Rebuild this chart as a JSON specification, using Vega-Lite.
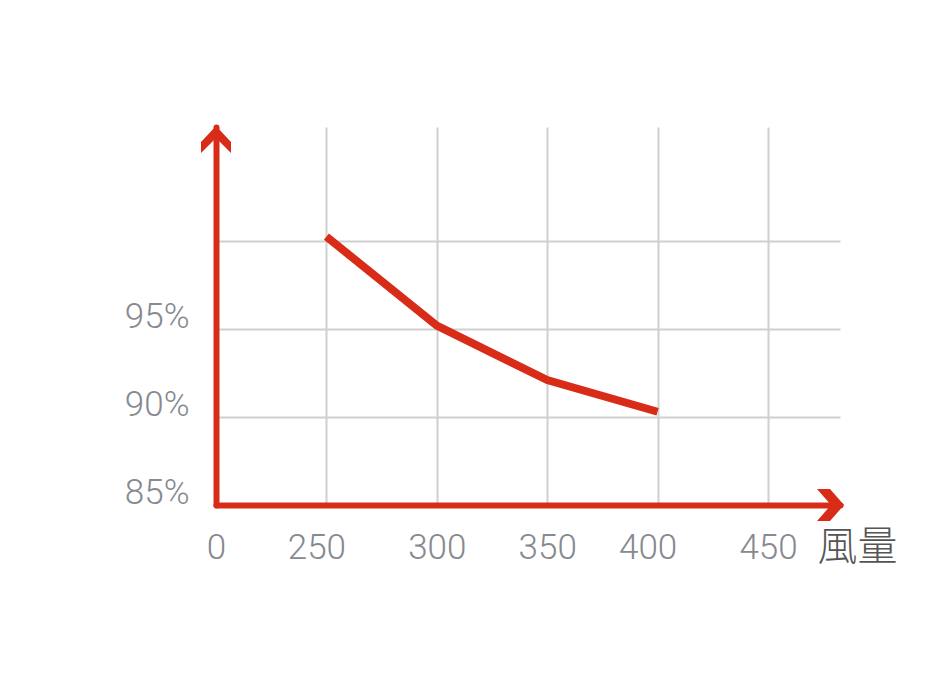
{
  "$schema": "https://vega.github.io/schema/vega-lite/v6.json",
  "width": 624,
  "height": 378,
  "autosize": "none",
  "padding": {"left": 216, "top": 127, "right": 111, "bottom": 169},
  "background": "white",
  "config": {"view": {"stroke": null}},
  "layer": [
    {
      "data": {
        "values": [
          {"airflow": 250, "efficiency": 100.25},
          {"airflow": 300, "efficiency": 95.2},
          {"airflow": 350, "efficiency": 92.1},
          {"airflow": 400, "efficiency": 90.3}
        ]
      },
      "mark": {"type": "line", "color": "#d92c18", "strokeWidth": 8, "strokeCap": "butt", "strokeJoin": "miter"},
      "encoding": {
        "x": {
          "field": "airflow",
          "type": "ordinal",
          "scale": {"type": "point", "domain": [0, 250, 300, 350, 400, 450], "padding": 0.326, "align": 0},
          "axis": {
            "title": "風量",
            "domainColor": "#d92c18",
            "domainWidth": 6,
            "domainCap": "round",
            "ticks": false,
            "grid": true,
            "gridColor": "#d0d0d0",
            "gridWidth": 2,
            "labelFont": "Roboto",
            "labelFontWeight": 300,
            "labelFontSize": 35,
            "labelColor": "#86898f",
            "labelAngle": 0,
            "labelPadding": 42,
            "labelBaseline": "middle",
            "labelOffset": {"condition": {"test": "datum.value == 250 || datum.value == 400", "value": -10}, "value": 0},
            "titleFont": "Noto Sans CJK TC",
            "titleFontSize": 40,
            "titleFontWeight": 300,
            "titleColor": "#555555",
            "titleX": 641,
            "titleY": 42,
            "titleAlign": "center",
            "titleBaseline": "middle"
          }
        },
        "y": {
          "field": "efficiency",
          "type": "quantitative",
          "scale": {"domain": [85, 106.48], "nice": false, "zero": false},
          "axis": {
            "title": null,
            "values": [85, 90, 95, 100],
            "labelExpr": "datum.value == 100 ? '' : datum.value + '%'",
            "domainColor": "#d92c18",
            "domainWidth": 6,
            "domainCap": "round",
            "ticks": false,
            "grid": true,
            "gridColor": {"condition": {"test": "datum.value == 85", "value": "transparent"}, "value": "#d0d0d0"},
            "gridWidth": 2,
            "labelFont": "Roboto",
            "labelFontWeight": 300,
            "labelFontSize": 35,
            "labelColor": "#86898f",
            "labelPadding": 27,
            "labelOffset": -13,
            "labelBaseline": "middle"
          }
        }
      }
    },
    {
      "data": {"values": [{}]},
      "mark": {"type": "point", "shape": "M0,-0.0625L-0.9375,0.9375L-0.9375,1.625L0,0.6875L0.9375,1.625L0.9375,0.9375Z", "size": 1024, "filled": true, "color": "#d92c18", "opacity": 1, "strokeWidth": 0},
      "encoding": {"x": {"value": 0}, "y": {"value": 0}}
    },
    {
      "data": {"values": [{}]},
      "mark": {"type": "point", "shape": "M0.25,0L-0.625,-1L-1.4375,-1L-0.5625,0L-1.4375,1L-0.625,1Z", "size": 1024, "filled": true, "color": "#d92c18", "opacity": 1, "strokeWidth": 0},
      "encoding": {"x": {"value": "width"}, "y": {"value": "height"}}
    }
  ]
}
